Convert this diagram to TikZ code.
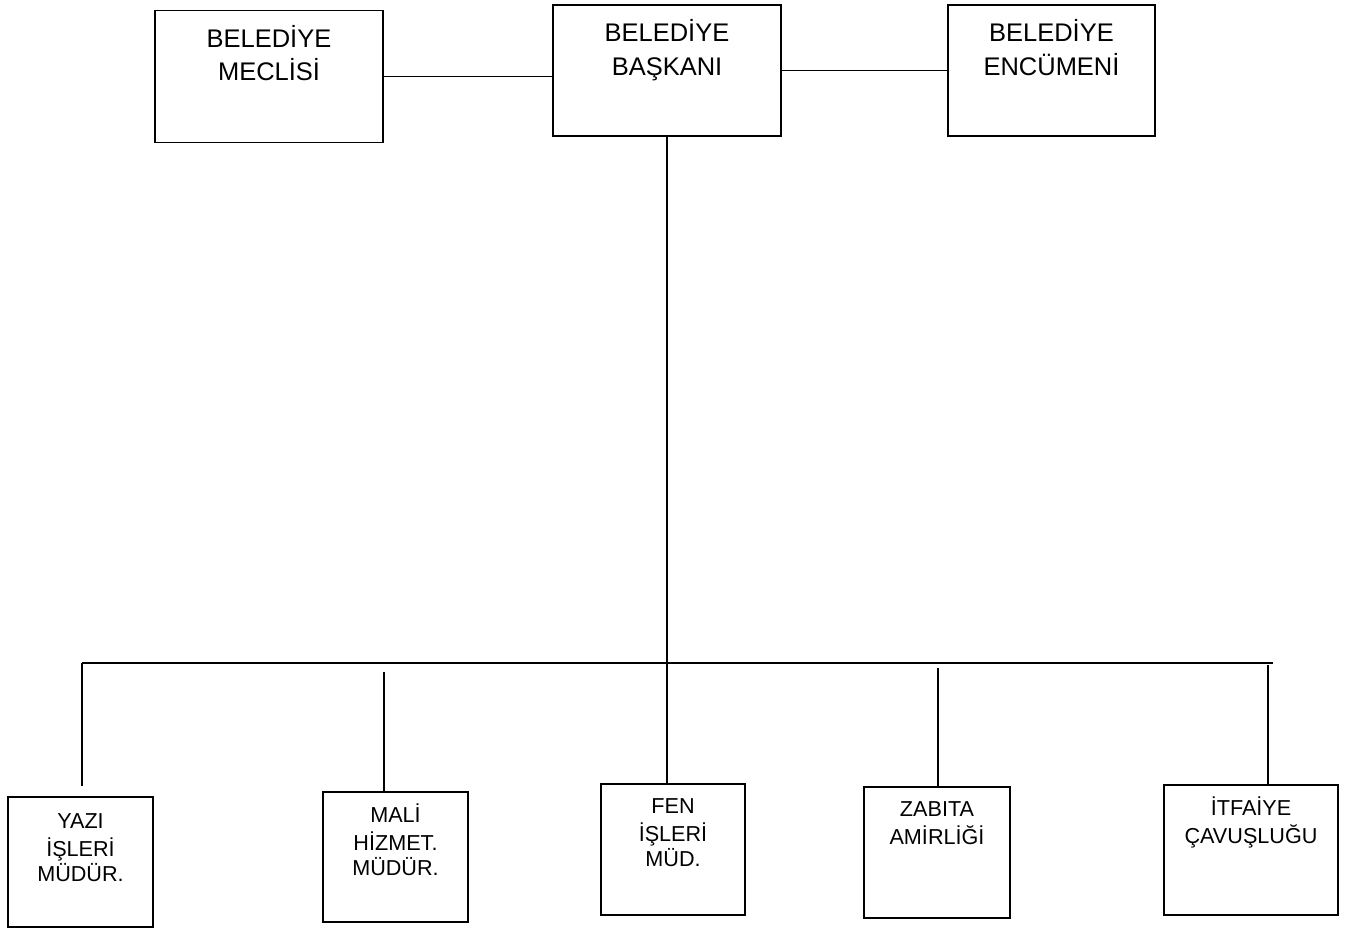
\documentclass[tikz,border=0pt]{standalone}
\usepackage{fontspec}
\setmainfont{Liberation Sans}
\usetikzlibrary{positioning}

\begin{document}
\begin{tikzpicture}
[x=0.02cm,y=-0.02cm,
line width=0.9pt,
every node/.style={inner sep=0pt},
ust/.style={draw,minimum width=4.56cm,minimum height=2.64cm},
alt/.style={draw,minimum width=2.9cm,minimum height=2.6cm},
ustyazi/.style={anchor=north,align=center,font=\fontsize{14.5}{19}\selectfont},
altyazi/.style={anchor=north,align=center,font=\fontsize{12.3}{14.3}\selectfont}]
\useasboundingbox (0,0) rectangle (1348,928);
\node [ust] (BM) at (269,76.5) {};
\node [ust,minimum height=2.62cm] (BB) at (667,70.5) {};
\node [ust,minimum width=4.14cm,minimum height=2.62cm] (BE) at (1051.5,70.5) {};
\node [ustyazi] (BMY) at ([yshift=-0.27cm]BM.north) {\strut BELEDİYE\\MECLİSİ};
\node [ustyazi] (BBY) at ([yshift=-0.27cm]BB.north) {\strut BELEDİYE\\BAŞKANI};
\node [ustyazi] (BEY) at ([yshift=-0.27cm]BE.north) {\strut BELEDİYE\\ENCÜMENİ};
\node [alt] (YI) at (80.5,862) {};
\node [alt] (MH) at (395.5,857) {};
\node [alt,minimum width=2.88cm,minimum height=2.62cm] (FI) at (673,849.5) {};
\node [alt,minimum width=2.92cm,minimum height=2.62cm] (ZA) at (937,852.5) {};
\node [alt,minimum width=3.48cm] (IC) at (1251,850) {};
\node [altyazi] (YIY) at ([yshift=-0.27cm]YI.north) {\strut YAZI\\İŞLERİ\\MÜDÜR.};
\node [altyazi] (MHY) at ([yshift=-0.24cm]MH.north) {\strut MALİ\\HİZMET.\\MÜDÜR.};
\node [altyazi] (FIY) at ([yshift=-0.24cm]FI.north) {\strut FEN\\İŞLERİ\\MÜD.};
\node [altyazi] (ZAY) at ([yshift=-0.24cm]ZA.north) {\strut ZABITA\\AMİRLİĞİ};
\node [altyazi] (ICY) at ([yshift=-0.24cm]IC.north) {\strut İTFAİYE\\ÇAVUŞLUĞU};
\coordinate (BS) at (82,663);
\coordinate (BD) at (1273,663);
\coordinate (MU) at (384,672);
\coordinate (ZU) at (938,668);
\coordinate (IU) at (1268,665);
\draw (BM.east) -- (BM.east -| BB.west);
\draw (BB.east) -- (BE.west);
\draw (BB.south) -- (BB.south |- FI.north);
\draw (BS) -- (BD);
\draw [shorten >=0.2cm] (BS) -- (BS |- YI.north);
\draw (MU) -- (MU |- MH.north);
\draw (ZU) -- (ZU |- ZA.north);
\draw (IU) -- (IU |- IC.north);
%\draw (BB.south) -- (BS);
\end{tikzpicture}
\end{document}
